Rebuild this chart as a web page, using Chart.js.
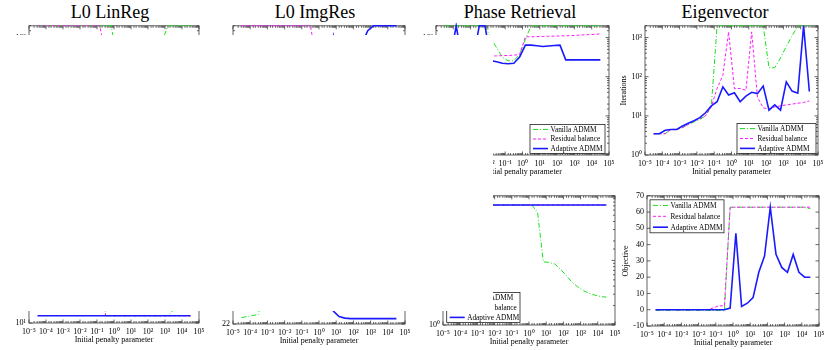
<!DOCTYPE html>
<html lang="en">
<head>
<meta charset="UTF-8">
<title>Sensitivity to the initial penalty parameter</title>
<script src="https://cdn.jsdelivr.net/npm/chart.js"></script>
<style>
  body { margin: 0; background: #fff; width: 831px; height: 350px; position: relative; overflow: hidden;
         font-family: "Liberation Serif", "Times New Roman", serif; }
  canvas { position: absolute; }
  .title { position: absolute; top: 3px; font-size: 18px; line-height: 18px; transform: translateX(-50%); white-space: nowrap; color: #000; }
  #cover { position: absolute; left: 0; top: 35px; width: 493px; height: 276px; background: #fff; z-index: 5; }
</style>
</head>
<body>
<div class="title" style="left:110px">L0 LinReg</div>
<div class="title" style="left:315px">L0 ImgRes</div>
<div class="title" style="left:520px">Phase Retrieval</div>
<div class="title" style="left:725px">Eigenvector</div>
<div id="cover"></div>

<script>
// initial penalty parameters (x axis)
const penalty = [3.16e-5, 6.81e-5, 1.47e-4, 3.16e-4, 6.81e-4, 1.47e-3, 3.16e-3, 6.81e-3, 1.47e-2, 3.16e-2,
  6.81e-2, 0.147, 0.316, 0.681, 1.47, 3.16, 6.81, 14.7, 31.6, 68.1, 147, 316, 681, 1470, 3160, 6810, 14700, 31600];
const seriesNames = ['Vanilla ADMM', 'Residual balance', 'Adaptive ADMM'];

// L0 LinReg
const linregIterVanilla  = [2000,2000,2000,2000,2000,2000,2000,2000,2000,2000,2000,2000,2000,2000,300,300,300,300,300,300,300,300,800,2000,2000,2000,2000,2000];
const linregIterResidual = [2000,2000,2000,2000,2000,2000,2000,2000,2000,2000,2000,2000,300,300,300,300,300,300,300,300,300,300,300,300,300,300,300,300];
const linregIterAdaptive = [200,200,200,200,200,200,200,200,200,200,200,200,200,200,200,200,200,200,200,200,200,200,200,200,200,200,200,200];
const linregObjVanilla   = [1000,1000,1000,1000,1000,1000,1000,1000,1000,1000,1000,1000,13,13,13,13,13,13,13,13,13,13,13,13,16,30,60,100];
const linregObjResidual  = [1000,1000,1000,1000,1000,1000,1000,1000,1000,1000,1000,1000,13,13,13,13,13,13,13,13,13,13,13,13,13,13,13,13];
const linregObjAdaptive  = [13,13,13,13,13,13,13,13,13,13,13,13,13,13,13,13,13,13,13,13,13,13,13,13,13,13,13,13];

// L0 ImgRes
const imgresIterVanilla  = [300,300,300,300,300,300,300,300,300,300,300,300,300,300,300,300,300,300,300,300,300,300,300,300,300,300,300,300];
const imgresIterResidual = [2000,2000,2000,2000,2000,2000,2000,2000,2000,2000,2000,2000,2000,300,300,300,300,300,300,300,300,300,300,300,300,300,300,300];
const imgresIterAdaptive = [150,150,150,150,150,150,150,150,150,150,150,150,150,150,150,150,1070,150,150,150,150,700,1500,2000,2000,2000,2000,2000];
const imgresObjVanilla   = [22.6,22.7,22.8,22.9,30,30,30,30,30,30,30,30,30,30,30,30,30,30,30,30,30,30,30,30,30,30,30,30];
const imgresObjResidual  = [30,30,30,30,30,30,30,30,30,30,30,30,30,30,30,30,30,30,30,30,30,30,30,30,30,30,30,30];
const imgresObjAdaptive  = [30,30,30,30,30,30,30,30,30,30,30,30,30,30,30,30,23.2,22.7,22.55,22.5,22.5,22.5,22.5,22.5,22.5,22.5,22.5,22.5];

// Phase Retrieval
const phaseIterVanilla  = [2000,2000,2000,2000,2000,2000,2000,2000,970,550,316,255,255,375,900,2000,2000,2000,2000,2000,2000,2000,2000,2000,2000,2000,2000,2000];
const phaseIterResidual = [300,300,300,300,300,300,300,300,340,340,345,350,355,370,1040,1050,1060,1070,1080,1090,1100,1110,1130,1150,1170,1190,1210,1240];
const phaseIterAdaptive = [300,300,2000,300,300,300,2000,2000,260,240,220,215,220,320,640,640,620,590,610,630,640,270,270,270,270,270,270,270];
const phaseObjVanilla   = [72,72,72,72,72,72,72,72,72,72,72,72,72,72,72,55,9.5,9.3,8.8,7.3,5.8,4.6,3.9,3.4,3.1,2.9,2.75,2.7];
const phaseObjResidual  = [72,72,72,72,72,72,72,72,72,72,72,72,72,72,72,72,72,72,72,72,72,72,72,72,72,72,72,72];
const phaseObjAdaptive  = [72,72,72,72,72,72,72,72,72,72,72,72,72,72,72,72,72,72,72,72,72,72,72,72,72,72,72,72];

// Eigenvector
const eigIterVanilla  = [3.5,3.5,3.5,4.5,4.5,5,6,7,8,10,18,2000,2000,2000,2000,2000,2000,2000,2000,2000,170,170,300,600,1100,2000,2000,2000];
const eigIterResidual = [3.5,3.5,3.5,4.5,4.5,5,6,7.5,8.5,10,17,50,107,1400,50,50,45,1400,30,16,15,17,18,19,20,21,22,24];
const eigIterAdaptive = [3.5,3.5,4.3,4.5,4.5,5.5,6.5,7.5,9,12,18,23,55,34,39,23,32,40,37,58,14,19,14,74,43,38,2000,42];
const eigObjVanilla   = [-0.5,-0.5,-0.5,-0.5,-0.5,-0.5,-0.5,-0.5,-0.5,-0.5,-0.5,-0.5,-0.5,63,63,63,63,63,63,63,63,63,63,63,63,63,63,62];
const eigObjResidual  = [0,0,0,0,0,0,0,0,0,0,1,2.4,2.4,63,63,63,63,63,63,63,63,63,63,63,63,63,63,63];
const eigObjAdaptive  = [0,0,0,0,0,0,0,0,0,0,0,0,0,1,47,2,4,7.4,23,33,63,34,26,23,34,23,20,20];

const FONT = '"Liberation Serif", "Times New Roman", serif';
Chart.defaults.font.family = FONT;
Chart.defaults.color = '#000';

const lineStyles = [
  { color: '#1ee01e', dash: [5, 2, 1, 2], width: 1, order: 3 },
  { color: '#ff1aff', dash: [3, 2], width: 1, order: 2 },
  { color: '#1a1aff', dash: [], width: 1.6, order: 1 }
];

const SUP = { '-': '\u207B', '0': '\u2070', '1': '\u00B9', '2': '\u00B2', '3': '\u00B3', '4': '\u2074',
  '5': '\u2075', '6': '\u2076', '7': '\u2077', '8': '\u2078', '9': '\u2079' };
function isPow10(v) {
  const e = Math.log10(v);
  return Math.abs(e - Math.round(e)) < 1e-6;
}
function powLabel(v) {
  if (!isPow10(v)) return '';
  return '10' + String(Math.round(Math.log10(v))).split('').map(c => SUP[c]).join('');
}

// box round the plot, with small ticks pointing inwards on all four sides
const frameTicks = {
  id: 'frameTicks',
  beforeDatasetsDraw(chart) {
    const { ctx, chartArea: a, scales } = chart;
    ctx.save();
    ctx.strokeStyle = '#3c3c3c';
    ctx.lineWidth = 0.8;
    ctx.strokeRect(a.left, a.top, a.right - a.left, a.bottom - a.top);
    ctx.beginPath();
    for (const t of scales.x.ticks) {
      const px = scales.x.getPixelForValue(t.value);
      if (px < a.left - 0.5 || px > a.right + 0.5) continue;
      const len = isPow10(t.value) ? 3.5 : 2;
      ctx.moveTo(px, a.bottom); ctx.lineTo(px, a.bottom - len);
      ctx.moveTo(px, a.top); ctx.lineTo(px, a.top + len);
    }
    const ys = scales.y;
    for (const t of ys.ticks) {
      const py = ys.getPixelForValue(t.value);
      if (py < a.top - 0.5 || py > a.bottom + 0.5) continue;
      const len = (ys.type !== 'logarithmic' || isPow10(t.value)) ? 3.5 : 2;
      ctx.moveTo(a.left, py); ctx.lineTo(a.left + len, py);
      ctx.moveTo(a.right, py); ctx.lineTo(a.right - len, py);
    }
    ctx.stroke();
    ctx.restore();
  }
};

// legend box placed inside the plot
const boxLegend = {
  id: 'boxLegend',
  afterDraw(chart, args, opts) {
    if (!opts || !opts.box) return;
    const { ctx, chartArea: a } = chart;
    const b = opts.box;
    const x = a.left + b.dx, y = a.top + b.dy;
    ctx.save();
    ctx.fillStyle = '#fff';
    ctx.fillRect(x, y, b.w, b.h);
    ctx.strokeStyle = '#222';
    ctx.lineWidth = 0.8;
    ctx.strokeRect(x, y, b.w, b.h);
    ctx.font = '7.3px ' + FONT;
    ctx.textBaseline = 'middle';
    [0.17, 0.5, 0.83].forEach((f, i) => {
      const ry = y + b.h * f;
      const st = lineStyles[i];
      ctx.beginPath();
      ctx.strokeStyle = st.color;
      ctx.lineWidth = st.width;
      ctx.setLineDash(st.dash);
      ctx.moveTo(x + 3, ry); ctx.lineTo(x + 18, ry);
      ctx.stroke();
      ctx.setLineDash([]);
      ctx.fillStyle = '#000';
      ctx.fillText(seriesNames[i], x + 20.5, ry + 0.5);
    });
    ctx.restore();
  }
};

const PADL = 26, PADT = 6, PADR = 12, PADB = 22;

function makePanel(p) {
  const c = document.createElement('canvas');
  const w = p.rect.r - p.rect.l + PADL + PADR;
  const h = p.rect.b - p.rect.t + PADT + PADB;
  c.width = w; c.height = h;
  c.style.width = w + 'px'; c.style.height = h + 'px';
  c.style.left = (p.rect.l - PADL) + 'px';
  c.style.top = (p.rect.t - PADT) + 'px';
  document.body.appendChild(c);

  const yTicks = {
    font: { size: 8 }, padding: 3, autoSkip: false,
    callback: v => p.yLabels === false ? '' : (p.y.type === 'logarithmic' ? powLabel(v) : String(v))
  };
  if (p.y.step) yTicks.stepSize = p.y.step;

  new Chart(c, {
    type: 'line',
    data: {
      datasets: p.series.map((ys, i) => ({
        label: seriesNames[i],
        data: ys.map((v, j) => ({ x: penalty[j], y: v })),
        borderColor: lineStyles[i].color,
        borderDash: lineStyles[i].dash,
        borderWidth: lineStyles[i].width,
        order: lineStyles[i].order,
        pointRadius: 0,
        tension: 0,
        fill: false,
        clip: 3
      }))
    },
    options: {
      responsive: false,
      animation: false,
      layout: { padding: { top: PADT, right: PADR, left: 0, bottom: 0 } },
      plugins: {
        legend: { display: false },
        tooltip: { enabled: false },
        boxLegend: { box: p.legend }
      },
      scales: {
        x: {
          type: 'logarithmic', min: 1e-5, max: 1e5,
          afterFit: s => { s.height = PADB; },
          grid: { display: false, drawTicks: false },
          border: { display: false },
          ticks: { font: { size: 8 }, padding: 4, autoSkip: false, maxRotation: 0, minRotation: 0, callback: v => powLabel(v) },
          title: { display: true, text: 'Initial penalty parameter', font: { size: 8 }, padding: { top: 0, bottom: 0 } }
        },
        y: {
          type: p.y.type, min: p.y.min, max: p.y.max,
          afterFit: s => { s.width = PADL; },
          grid: { display: false, drawTicks: false },
          border: { display: false },
          ticks: yTicks,
          title: { display: true, text: p.yTitle, font: { size: 8 }, padding: { top: 0, bottom: 0 } }
        }
      }
    },
    plugins: [frameTicks, boxLegend]
  });
}

const logIter = { type: 'logarithmic', min: 1, max: 2000 };
const panels = [
  { rect: { l: 29, t: 24, r: 199, b: 155 }, y: logIter, yTitle: 'Iterations',
    series: [linregIterVanilla, linregIterResidual, linregIterAdaptive] },
  { rect: { l: 233, t: 24, r: 405, b: 155 }, y: logIter, yLabels: false, yTitle: 'Iterations',
    series: [imgresIterVanilla, imgresIterResidual, imgresIterAdaptive] },
  { rect: { l: 436, t: 24, r: 609, b: 155 }, y: logIter, yTitle: 'Iterations',
    series: [phaseIterVanilla, phaseIterResidual, phaseIterAdaptive], legend: { dx: 94, dy: 98.7, w: 75, h: 29 } },
  { rect: { l: 645, t: 24, r: 818, b: 155 }, y: logIter, yTitle: 'Iterations',
    series: [eigIterVanilla, eigIterResidual, eigIterAdaptive], legend: { dx: 92, dy: 97.7, w: 79, h: 30 } },
  { rect: { l: 29, t: 194, r: 199, b: 323 }, y: { type: 'logarithmic', min: 10, max: 1000 }, yTitle: 'Objective',
    series: [linregObjVanilla, linregObjResidual, linregObjAdaptive] },
  { rect: { l: 233, t: 194, r: 405, b: 324 }, y: { type: 'linear', min: 22, max: 34, step: 2 }, yTitle: 'Objective',
    series: [imgresObjVanilla, imgresObjResidual, imgresObjAdaptive] },
  { rect: { l: 443, t: 194, r: 615, b: 325 }, y: { type: 'logarithmic', min: 1, max: 100 }, yTitle: 'Objective',
    series: [phaseObjVanilla, phaseObjResidual, phaseObjAdaptive], legend: { dx: 3.7, dy: 96.7, w: 73.3, h: 30 } },
  { rect: { l: 647, t: 194, r: 819, b: 326 }, y: { type: 'linear', min: -10, max: 70, step: 10 }, yTitle: 'Objective',
    series: [eigObjVanilla, eigObjResidual, eigObjAdaptive], legend: { dx: 3, dy: 4, w: 74, h: 33 } }
];
panels.forEach(makePanel);
</script>
</body>
</html>
